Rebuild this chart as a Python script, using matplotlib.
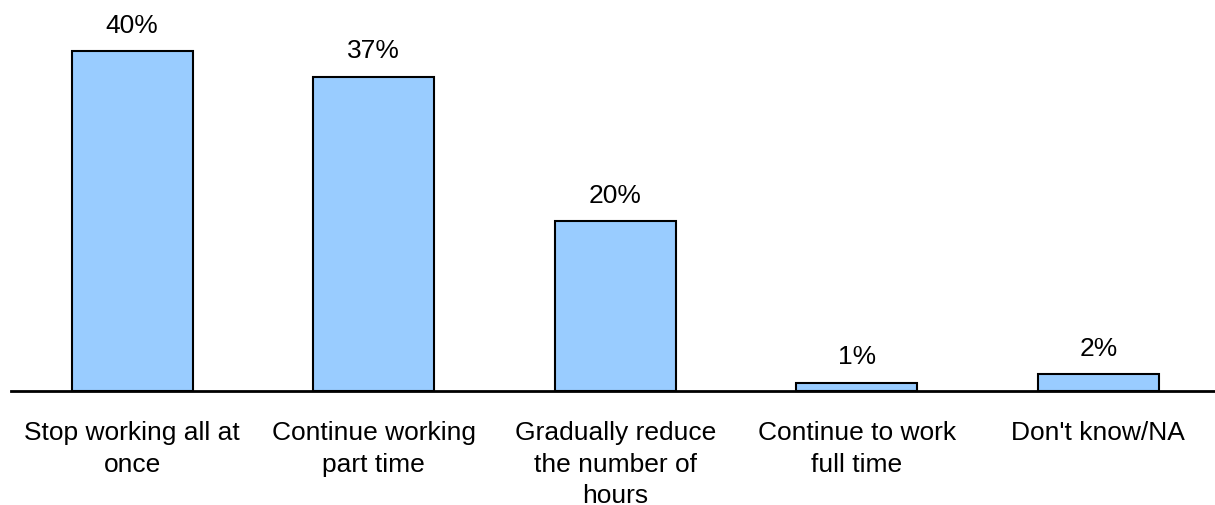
import matplotlib
matplotlib.use("Agg")
import matplotlib.pyplot as plt

# Retirement plan survey responses
categories = [
    "Stop working all at\nonce",
    "Continue working\npart time",
    "Gradually reduce\nthe number of\nhours",
    "Continue to work\nfull time",
    "Don't know/NA",
]
values = [40, 37, 20, 1, 2]
value_labels = ["40%", "37%", "20%", "1%", "2%"]

plt.rcParams["font.family"] = ["Liberation Sans", "DejaVu Sans"]

fig = plt.figure(figsize=(12.15, 5.05), dpi=100)
ax = fig.add_axes([0.0094, 0.2257, 0.994, 0.7574])

x = list(range(len(categories)))
bars = ax.bar(x, values, width=0.5, color="#99CCFF", edgecolor="black", linewidth=1.5, zorder=2)

for xi, v, lab in zip(x, values, value_labels):
    ax.annotate(lab, (xi, v), xytext=(0, 13), textcoords="offset points",
                ha="center", va="baseline", fontsize=19)

ax.set_xlim(-0.5, 4.5)
ax.set_ylim(0, 45)
ax.set_xticks(x)
ax.set_xticklabels(categories, fontsize=19, linespacing=1.41)
ax.tick_params(axis="x", length=0, pad=21.5)
ax.set_yticks([])
for side in ("left", "right", "top"):
    ax.spines[side].set_visible(False)
ax.spines["bottom"].set_linewidth(2)
ax.spines["bottom"].set_zorder(3)

fig.savefig("out.png", dpi=100)
